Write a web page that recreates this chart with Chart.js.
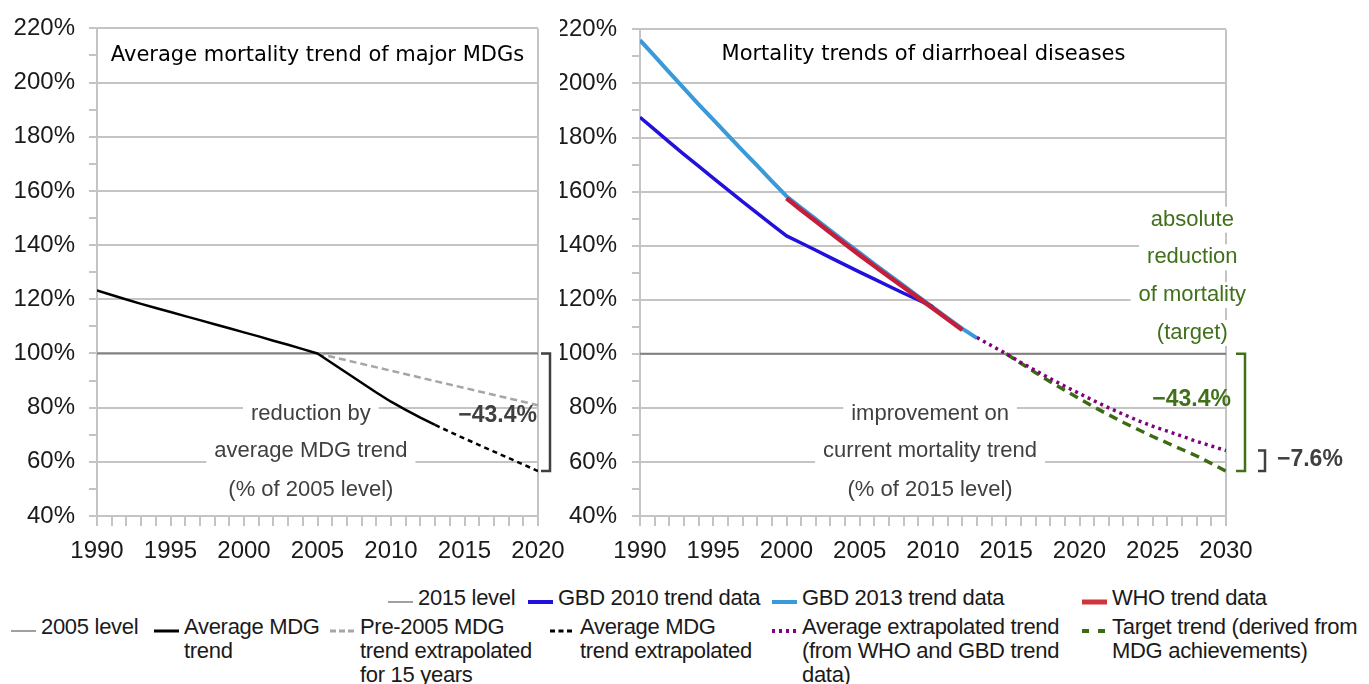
<!DOCTYPE html>
<html><head><meta charset="utf-8">
<script src="https://cdn.jsdelivr.net/npm/chart.js@4.4.1/dist/chart.umd.min.js"></script>
<style>
html,body{margin:0;padding:0;background:#fff;width:1369px;height:684px;overflow:hidden;position:relative;font-family:"Liberation Sans",Arial,sans-serif;}
canvas{position:absolute;top:0;}
#c1{left:0;}
#c2{left:560px;}
.lg{position:absolute;font-size:22px;line-height:24px;color:#1a1a1a;white-space:nowrap;letter-spacing:-0.3px;}
.sw{position:absolute;}
</style></head><body>
<canvas id="c1" width="580" height="575"></canvas>
<canvas id="c2" width="809" height="575"></canvas>
<div id="legend"></div>
<script>
// ---------- DATA (percent of reference level) ----------
// Left panel: average mortality trend of major MDGs
const mdgYears      = [1990,1991,1992,1993,1994,1995,1996,1997,1998,1999,2000,2001,2002,2003,2004,2005,2006,2007,2008,2009,2010,2011,2012,2013];
const mdgValues     = [123.3,121.6,119.9,118.3,116.8,115.3,113.8,112.3,110.8,109.3,107.8,106.3,104.7,103.2,101.6,100,96.4,92.8,89.2,85.6,82.2,79.2,76.3,73.6];
const mdgExtYears   = [2013,2014,2015,2016,2017,2018,2019,2020];
const mdgExtValues  = [73.6,71.1,68.6,66.2,63.8,61.4,59.0,56.6];
const pre2005Years  = [2005,2020];
const pre2005Values = [100,80.9];
const level2005Years  = [1990,2020];
const level2005Values = [100,100];

// Right panel: mortality trends of diarrhoeal diseases
const gbd2010Years  = [1990,1991,1992,1993,1994,1995,1996,1997,1998,1999,2000,2001,2002,2003,2004,2005,2006,2007,2008,2009,2010];
const gbd2010Values = [187.5,182.9,178.3,173.8,169.4,165.0,160.6,156.3,152.0,147.8,143.6,141.0,138.3,135.6,132.9,130.2,127.6,125.0,122.4,119.9,117.4];
const gbd2013Years  = [1990,1991,1992,1993,1994,1995,1996,1997,1998,1999,2000,2001,2002,2003,2004,2005,2006,2007,2008,2009,2010,2011,2012,2013];
const gbd2013Values = [216.0,210.1,204.1,198.2,192.3,186.6,180.9,175.2,169.6,163.9,158.3,154.0,149.8,145.6,141.4,137.3,133.2,129.2,125.2,121.2,117.2,113.2,109.3,105.8];
const whoYears      = [2000,2001,2002,2003,2004,2005,2006,2007,2008,2009,2010,2011,2012];
const whoValues     = [157.5,153.2,149.0,144.8,140.6,136.5,132.5,128.5,124.6,120.7,116.8,112.8,108.8];
const avgExtYears   = [2013,2014,2015,2016,2017,2018,2019,2020,2021,2022,2023,2024,2025,2026,2027,2028,2029,2030];
const avgExtValues  = [106.0,103.0,100,96.8,93.8,90.8,88.0,85.3,82.6,80.0,77.6,75.3,73.2,71.4,69.5,67.6,65.9,64.2];
const targetYears   = [2015,2016,2017,2018,2019,2020,2021,2022,2023,2024,2025,2026,2027,2028,2029,2030];
const targetValues  = [100,96.5,93.0,89.7,86.5,83.4,80.3,77.4,74.6,72.0,69.4,67.0,64.6,62.2,59.4,56.6];
const level2015Years  = [1990,2030];
const level2015Values = [100,100];

// Axis ticks / labels
const yMin = 40, yMax = 220;
const leftXRange  = [1990, 2020];
const rightXRange = [1990, 2030];

const legendRow1 = ['2015 level','GBD 2010 trend data','GBD 2013 trend data','WHO trend data'];
const legendRow2 = ['2005 level','Average MDG<br>trend','Pre-2005 MDG<br>trend extrapolated<br>for 15 years','Average MDG<br>trend extrapolated','Average extrapolated trend<br>(from WHO and GBD trend<br>data)','Target trend (derived from<br>MDG achievements)'];

// ---------- STYLE ----------
const GRID = '#c4c4c4';
const LEVEL = '#808080';
const TXT = '#1a1a1a';
const ANN = '#404040';
const GREEN = '#40701a';
const C = {
  black:'#000000', pre:'#a6a6a6', gbd10:'#2211dd', gbd13:'#3a9ad9', who:'#c41e3a', purple:'#800080', green:'#3d6b12'
};
Chart.defaults.font.family = '"Liberation Sans", Arial, sans-serif';
Chart.defaults.font.size = 24;
Chart.defaults.color = TXT;

const pts = (xs, ys) => xs.map((x, i) => ({x: x, y: ys[i]}));

function line(data, color, width, dash, order) {
  return {data: data, borderColor: color, borderWidth: width, borderDash: dash || [],
    pointRadius: 0, fill: false, tension: 0, borderCapStyle: 'butt', borderJoinStyle: 'round', order: order};
}

function scales(xr, yWidth, yPad) {
  return {
    x: {type: 'linear', min: xr[0], max: xr[1],
      afterFit: s => { s.height = 59; },
      ticks: {stepSize: 1, autoSkip: false, maxRotation: 0, padding: 11, color: TXT,
        callback: v => (v % 5 === 0 ? String(v) : '')},
      grid: {color: c => (c.tick && c.tick.value === xr[1]) ? GRID : 'rgba(0,0,0,0)',
        tickColor: GRID, tickLength: 10, lineWidth: 2, tickWidth: 2},
      border: {color: GRID, width: 2}},
    y: {type: 'linear', min: yMin, max: yMax,
      afterFit: s => { s.width = yWidth; },
      ticks: {stepSize: 10, autoSkip: false, padding: yPad, color: TXT,
        callback: v => (v % 20 === 0 ? v + '%' : '')},
      grid: {color: c => (c.tick && c.tick.value % 20 === 0) ? GRID : 'rgba(0,0,0,0)',
        tickColor: GRID, tickLength: 8, lineWidth: 2, tickWidth: 2},
      border: {color: GRID, width: 2}}
  };
}

function boxText(ctx, txt, x, y, font, color, align, box) {
  ctx.save();
  ctx.font = font;
  const w = ctx.measureText(txt).width;
  const left = align === 'center' ? x - w / 2 : (align === 'right' ? x - w : x);
  if (box) { ctx.fillStyle = '#fff'; ctx.fillRect(left - 8, y - 13, w + 16, 26); }
  ctx.fillStyle = color; ctx.textAlign = align; ctx.textBaseline = 'middle';
  ctx.fillText(txt, x, y);
  ctx.restore();
}
function bracket(ctx, x, y1, y2, tick, color, w) {
  ctx.save();
  ctx.strokeStyle = color; ctx.lineWidth = w; ctx.lineCap = 'butt'; ctx.lineJoin = 'miter';
  ctx.beginPath();
  ctx.moveTo(x - tick, y1); ctx.lineTo(x, y1); ctx.lineTo(x, y2); ctx.lineTo(x - tick, y2);
  ctx.stroke();
  ctx.restore();
}

const REG = '22px "Liberation Sans", Arial, sans-serif';
const BOLD = 'bold 23px "Liberation Sans", Arial, sans-serif';
const TITLE = '21px "DejaVu Sans", Verdana, sans-serif';

const leftAnn = {
  id: 'leftAnn',
  beforeDatasetsDraw(chart) {
    const ctx = chart.ctx, X = v => chart.scales.x.getPixelForValue(v), Y = v => chart.scales.y.getPixelForValue(v);
    const a = chart.chartArea;
    boxText(ctx, 'Average mortality trend of major MDGs', (a.left + a.right) / 2, 56, TITLE, '#000', 'center', false);
    const cx = X(2004.55);
    boxText(ctx, 'reduction by', cx, Y(77.6), REG, ANN, 'center', true);
    boxText(ctx, 'average MDG trend', cx, Y(64.0), REG, ANN, 'center', true);
    boxText(ctx, '(% of 2005 level)', cx, Y(49.6), REG, ANN, 'center', true);
  },
  afterDraw(chart) {
    const ctx = chart.ctx, X = v => chart.scales.x.getPixelForValue(v), Y = v => chart.scales.y.getPixelForValue(v);
    boxText(ctx, '\u221243.4%', X(2020) - 1, Y(77.2), BOLD, ANN, 'right', false);
    bracket(ctx, X(2020) + 12, Y(100), Y(56.6), 9, ANN, 2.5);
  }
};

const rightAnn = {
  id: 'rightAnn',
  beforeDatasetsDraw(chart) {
    const ctx = chart.ctx, X = v => chart.scales.x.getPixelForValue(v), Y = v => chart.scales.y.getPixelForValue(v);
    boxText(ctx, 'Mortality trends of diarrhoeal diseases', X(2009.35), 55, TITLE, '#000', 'center', false);
    const cx = X(2009.8);
    boxText(ctx, 'improvement on', cx, Y(77.9), REG, ANN, 'center', true);
    boxText(ctx, 'current mortality trend', cx, Y(64.0), REG, ANN, 'center', true);
    boxText(ctx, '(% of 2015 level)', cx, Y(49.6), REG, ANN, 'center', true);
    const gx = X(2027.7);
    boxText(ctx, 'absolute', gx, Y(149.6), REG, GREEN, 'center', true);
    boxText(ctx, 'reduction', gx, Y(135.7), REG, GREEN, 'center', true);
    boxText(ctx, 'of mortality', gx, Y(121.7), REG, GREEN, 'center', true);
    boxText(ctx, '(target)', gx, Y(107.7), REG, GREEN, 'center', true);
  },
  afterDraw(chart) {
    const ctx = chart.ctx, X = v => chart.scales.x.getPixelForValue(v), Y = v => chart.scales.y.getPixelForValue(v);
    boxText(ctx, '\u221243.4%', X(2030) + 5, Y(83.1), BOLD, GREEN, 'right', false);
    bracket(ctx, X(2030) + 19, Y(100), Y(56.6), 9, GREEN, 2.5);
    bracket(ctx, X(2030) + 39, Y(64.2), Y(56.6), 7, ANN, 2.5);
    boxText(ctx, '\u22127.6%', X(2030) + 51, Y(60.7), BOLD, ANN, 'left', false);
  }
};

const common = {
  responsive: false, animation: false, events: [],
  plugins: {legend: {display: false}, tooltip: {enabled: false}, title: {display: false}}
};

new Chart(document.getElementById('c1'), {
  type: 'line',
  data: {datasets: [
    line(pts(mdgYears, mdgValues), C.black, 2.5, [], 1),
    line(pts(mdgExtYears, mdgExtValues), C.black, 2.5, [5, 4], 2),
    line(pts(pre2005Years, pre2005Values), C.pre, 2.5, [7, 4], 3),
    line(pts(level2005Years, level2005Values), LEVEL, 2, [], 4)
  ]},
  options: Object.assign({}, common, {
    layout: {padding: {top: 26, right: 42, left: 0, bottom: 0}},
    scales: scales(leftXRange, 97, 14)
  }),
  plugins: [leftAnn]
});

new Chart(document.getElementById('c2'), {
  type: 'line',
  data: {datasets: [
    line(pts(avgExtYears, avgExtValues), C.purple, 3.5, [3, 4], 1),
    line(pts(targetYears, targetValues), C.green, 3.5, [9, 6], 2),
    line(pts(whoYears, whoValues), C.who, 4.5, [], 3),
    line(pts(gbd2010Years, gbd2010Values), C.gbd10, 3.5, [], 4),
    line(pts(gbd2013Years, gbd2013Values), C.gbd13, 4, [], 5),
    line(pts(level2015Years, level2015Values), LEVEL, 2, [], 6)
  ]},
  options: Object.assign({}, common, {
    layout: {padding: {top: 26, right: 143, left: 0, bottom: 0}},
    scales: scales(rightXRange, 80, 15)
  }),
  plugins: [rightAnn]
});

// ---------- LEGEND (HTML) ----------
const swatches = {
  level:  {color: LEVEL, w: 1.5, dash: ''},
  gbd10:  {color: C.gbd10, w: 4, dash: ''},
  gbd13:  {color: C.gbd13, w: 4, dash: ''},
  who:    {color: '#d0343c', w: 5, dash: ''},
  avg:    {color: C.black, w: 3, dash: ''},
  pre:    {color: C.pre, w: 3, dash: '6,3'},
  avgExt: {color: C.black, w: 3, dash: '5,3.5'},
  purple: {color: C.purple, w: 4, dash: '3,4'},
  green:  {color: C.green, w: 4, dash: '7,9'}
};
const legendItems = [
  {label: legendRow1[0], sw: 'level',  x: 388, y: 598},
  {label: legendRow1[1], sw: 'gbd10',  x: 528, y: 598},
  {label: legendRow1[2], sw: 'gbd13',  x: 772, y: 598},
  {label: legendRow1[3], sw: 'who',    x: 1082, y: 598},
  {label: legendRow2[0], sw: 'level',  x: 11,  y: 627},
  {label: legendRow2[1], sw: 'avg',    x: 154, y: 627},
  {label: legendRow2[2], sw: 'pre',    x: 330, y: 627},
  {label: legendRow2[3], sw: 'avgExt', x: 550, y: 627},
  {label: legendRow2[4], sw: 'purple', x: 772, y: 627},
  {label: legendRow2[5], sw: 'green',  x: 1082, y: 627}
];
const lg = document.getElementById('legend');
legendItems.forEach(it => {
  const s = swatches[it.sw];
  const svg = document.createElement('div');
  svg.className = 'sw';
  svg.style.left = it.x + 'px'; svg.style.top = (it.y - 5) + 'px';
  svg.innerHTML = '<svg width="25" height="10"><line x1="0" y1="5" x2="25" y2="5" stroke="' + s.color +
    '" stroke-width="' + s.w + '"' + (s.dash ? ' stroke-dasharray="' + s.dash + '"' : '') + '/></svg>';
  lg.appendChild(svg);
  const t = document.createElement('div');
  t.className = 'lg';
  t.style.left = (it.x + 30) + 'px'; t.style.top = (it.y - 12) + 'px';
  t.innerHTML = it.label;
  lg.appendChild(t);
});
</script>
</body></html>
